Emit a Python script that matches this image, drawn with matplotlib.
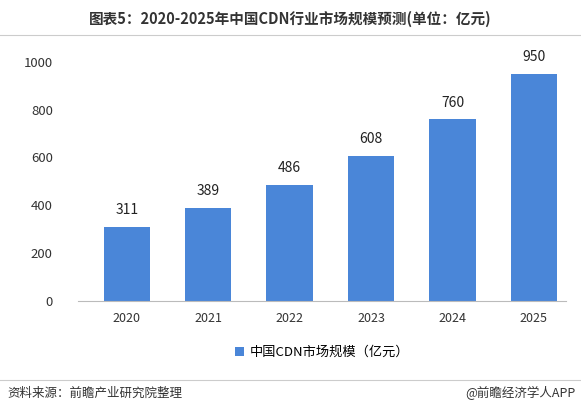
import matplotlib
matplotlib.use("Agg")
import matplotlib.pyplot as plt

plt.rcParams['font.family'] = ['Noto Sans CJK SC', 'DejaVu Sans']

years = ['2020', '2021', '2022', '2023', '2024', '2025']
values = [311, 389, 486, 608, 760, 950]
yticks = [0, 200, 400, 600, 800, 1000]

fig = plt.figure(figsize=(5.81, 4.15), dpi=100)
ax = fig.add_axes([0.134, 0.275, 0.841, 0.576])
color = '#4a86d8'
bars = ax.bar(years, values, width=0.57, color=color, label='中国CDN市场规模（亿元）')
for b, v in zip(bars, values):
    ax.text(b.get_x() + b.get_width() / 2, v + 40, str(v), ha='center', va='bottom', fontsize=10, color='#222222')
ax.set_ylim(0, 1000)
ax.set_yticks(yticks)
ax.set_xlim(-0.6, 5.4)
for s in ['top', 'right', 'left']:
    ax.spines[s].set_visible(False)
ax.spines['bottom'].set_color('#bbbbbb')
ax.tick_params(axis='y', length=0, labelsize=9.5, colors='#333333', pad=18)
ax.tick_params(axis='x', length=0, labelsize=9, colors='#333333', pad=8)

ax.legend(loc='upper center', bbox_to_anchor=(0.5, -0.14), frameon=False, fontsize=9.5,
          handlelength=0.7, handleheight=0.7, handletextpad=0.4)

fig.text(0.5, 0.955, '图表5：2020-2025年中国CDN行业市场规模预测(单位：亿元)', ha='center', va='center',
         fontsize=10.5, fontweight='bold', color='#333333')
fig.add_artist(plt.Line2D([0.0, 1.0], [0.915, 0.915], color='#cccccc', lw=0.8))
fig.add_artist(plt.Line2D([0.0, 1.0], [0.085, 0.085], color='#cccccc', lw=0.8))
fig.text(0.012, 0.052, '资料来源：前瞻产业研究院整理', ha='left', va='center', fontsize=9, color='#333333')
fig.text(0.99, 0.052, '@前瞻经济学人APP', ha='right', va='center', fontsize=9, color='#333333')

fig.savefig('out.png', dpi=100)
